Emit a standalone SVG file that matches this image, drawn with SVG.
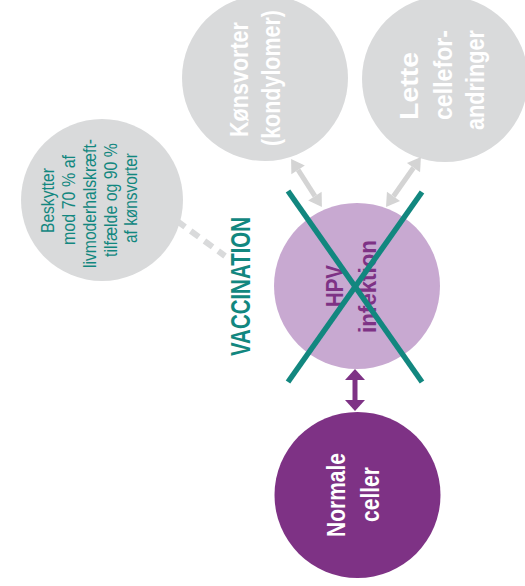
<svg xmlns="http://www.w3.org/2000/svg" width="525" height="586" viewBox="0 0 525 586">
<defs>
<style>
.gray{fill:#d9dadb}
.lbl{font-family:"Liberation Sans",Arial,sans-serif;font-weight:bold;font-size:25px;fill:#ffffff}
.hpv{font-family:"Liberation Sans",Arial,sans-serif;font-weight:bold;font-size:23px;fill:#7e3285}
.vac{font-family:"Liberation Sans",Arial,sans-serif;font-weight:bold;font-size:28px;fill:#12877f}
.note{font-family:"Liberation Sans",Arial,sans-serif;font-size:17.5px;fill:#12877f}
.garrow{stroke:#d4d4d4;stroke-width:5;fill:none;marker-start:url(#gh);marker-end:url(#gh)}
.parrow{stroke:#7e3285;stroke-width:5;fill:none;marker-start:url(#ph);marker-end:url(#ph)}
.cross{stroke:#12877f;stroke-width:5.5;fill:none}
</style>
<marker id="gh" markerUnits="userSpaceOnUse" markerWidth="20" markerHeight="20" refX="0" refY="0" viewBox="0 -10 14 20" orient="auto-start-reverse">
<path d="M0,-8 L13,0 L0,8 z" fill="#d4d4d4"/>
</marker>
<marker id="ph" markerUnits="userSpaceOnUse" markerWidth="20" markerHeight="24" refX="0" refY="0" viewBox="0 -12 12 24" orient="auto-start-reverse">
<path d="M0,-10 L11,0 L0,10 z" fill="#7e3285"/>
</marker>
</defs>
<rect width="525" height="586" fill="#ffffff"/>

<g id="node-konsvorter">
<circle class="gray" cx="265" cy="78" r="83"/>
<text class="lbl" transform="translate(248,137) rotate(-90)" textLength="115" lengthAdjust="spacingAndGlyphs">Kønsvorter</text>
<text class="lbl" transform="translate(280,146) rotate(-90)" textLength="136" lengthAdjust="spacingAndGlyphs">(kondylomer)</text>
</g>

<g id="node-lette">
<circle class="gray" cx="445" cy="79" r="83"/>
<text class="lbl" transform="translate(418,120) rotate(-90)" textLength="68" lengthAdjust="spacingAndGlyphs">Lette</text>
<text class="lbl" transform="translate(452,120) rotate(-90)" textLength="90" lengthAdjust="spacingAndGlyphs">cellefor-</text>
<text class="lbl" transform="translate(484,130) rotate(-90)" textLength="100" lengthAdjust="spacingAndGlyphs">andringer</text>
</g>

<g id="node-beskytter">
<circle class="gray" cx="102" cy="200" r="81"/>
<text class="note" transform="translate(54,233) rotate(-90)" textLength="65" lengthAdjust="spacingAndGlyphs">Beskytter</text>
<text class="note" transform="translate(75,245) rotate(-90)" textLength="90" lengthAdjust="spacingAndGlyphs">mod 70 % af</text>
<text class="note" transform="translate(96,268) rotate(-90)" textLength="129" lengthAdjust="spacingAndGlyphs">livmoderhalskræft-</text>
<text class="note" transform="translate(117,257) rotate(-90)" textLength="114" lengthAdjust="spacingAndGlyphs">tilfælde og 90 %</text>
<text class="note" transform="translate(137,243) rotate(-90)" textLength="90" lengthAdjust="spacingAndGlyphs">af kønsvorter</text>
</g>

<g id="node-hpv">
<circle cx="357" cy="286" r="83" fill="#c8a9d1"/>
<text class="hpv" transform="translate(343,307) rotate(-90)" textLength="42" lengthAdjust="spacingAndGlyphs">HPV</text>
<text class="hpv" transform="translate(376,333) rotate(-90)" textLength="93" lengthAdjust="spacingAndGlyphs">infektion</text>
</g>

<g id="node-normale">
<circle cx="357.5" cy="495" r="83" fill="#7e3285"/>
<text class="lbl" transform="translate(345,537) rotate(-90)" textLength="84" lengthAdjust="spacingAndGlyphs">Normale</text>
<text class="lbl" transform="translate(379,522) rotate(-90)" textLength="55" lengthAdjust="spacingAndGlyphs">celler</text>
</g>

<g id="connectors">
<line class="garrow" x1="298.1" y1="169.9" x2="314.9" y2="196.1"/>
<line class="garrow" x1="413.5" y1="167.7" x2="393.5" y2="196.3"/>
<line class="parrow" x1="355" y1="380" x2="355" y2="400"/>
<line x1="177" y1="221" x2="225" y2="256" stroke="#d9dadb" stroke-width="6" stroke-dasharray="10 7"/>
</g>

<g id="vaccination">
<line class="cross" x1="288" y1="191" x2="422" y2="382"/>
<line class="cross" x1="422" y1="192" x2="288" y2="382"/>
<text class="vac" transform="translate(250,356) rotate(-90)" textLength="139" lengthAdjust="spacingAndGlyphs">VACCINATION</text>
</g>
</svg>
